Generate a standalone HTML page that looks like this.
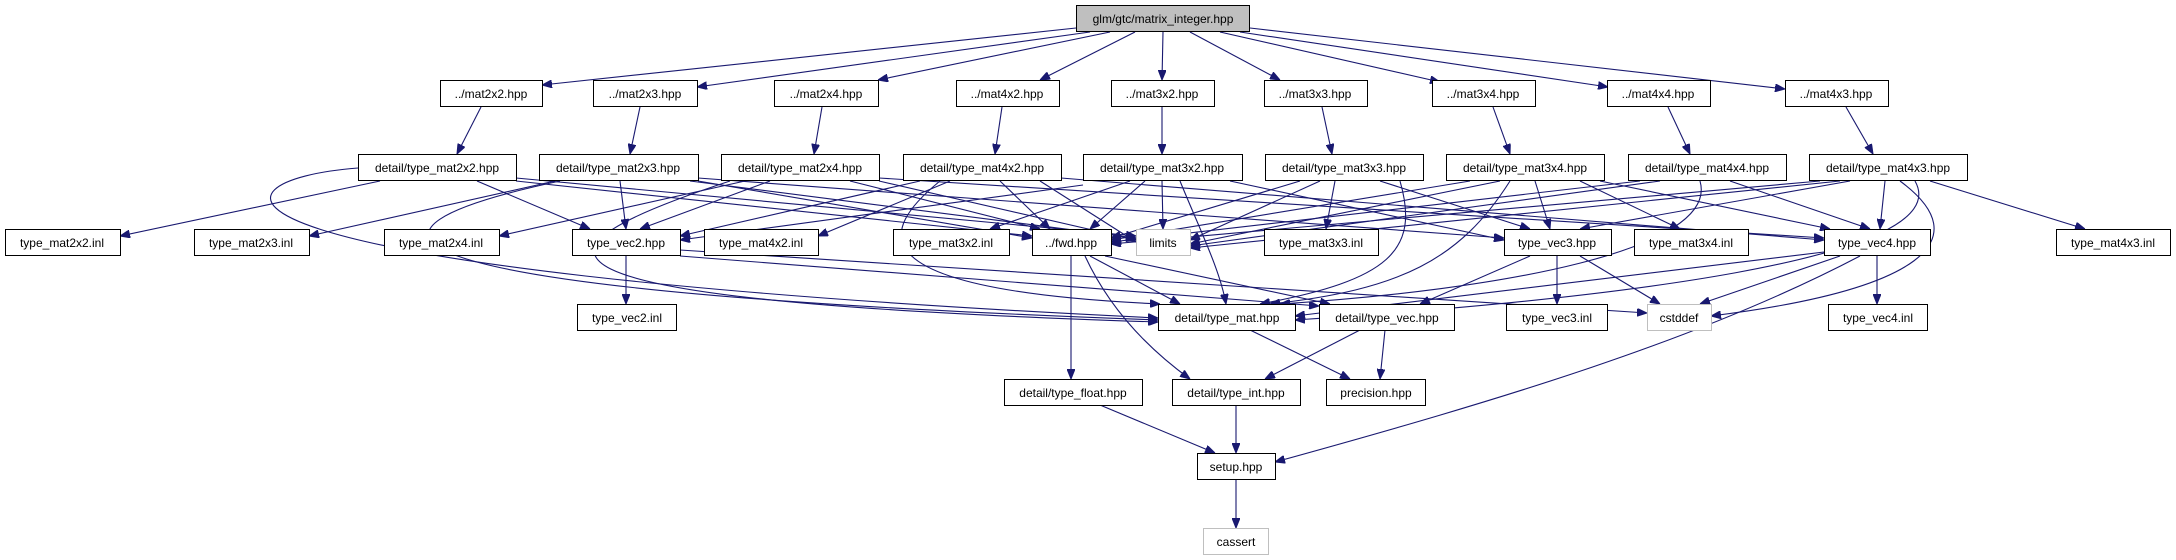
<!DOCTYPE html>
<html><head><meta charset="utf-8"><style>
html,body{margin:0;padding:0;background:#fff;}
svg{display:block;}
text{font-family:"Liberation Sans",sans-serif;font-size:12px;fill:#000;}
.b{fill:#fff;stroke:#000;stroke-width:1;}
.g{fill:#fff;stroke:#bfbfbf;stroke-width:1;}
.e{fill:none;stroke:#191970;stroke-width:1.1;marker-end:url(#a);}
</style></head><body>
<svg width="2176" height="560" viewBox="0 0 2176 560" xmlns="http://www.w3.org/2000/svg">
<defs><marker id="a" markerWidth="10" markerHeight="8" refX="10" refY="4" orient="auto" markerUnits="userSpaceOnUse"><path d="M0,0 L10,4 L0,8 z" fill="#191970" stroke="#191970"/></marker></defs>
<g>
<!-- root -> row1 -->
<line class="e" x1="1076" y1="28" x2="542" y2="85"/>
<line class="e" x1="1090" y1="32" x2="697" y2="87"/>
<line class="e" x1="1110" y1="32" x2="878" y2="80"/>
<line class="e" x1="1135" y1="32" x2="1040" y2="80"/>
<line class="e" x1="1163" y1="32" x2="1162" y2="80"/>
<line class="e" x1="1190" y1="32" x2="1280" y2="80"/>
<line class="e" x1="1220" y1="32" x2="1440" y2="82"/>
<line class="e" x1="1240" y1="32" x2="1608" y2="87"/>
<line class="e" x1="1250" y1="28" x2="1785" y2="89"/>
<!-- row1 -> row2 -->
<line class="e" x1="481" y1="107" x2="457" y2="154"/>
<line class="e" x1="640" y1="107" x2="630" y2="154"/>
<line class="e" x1="822" y1="107" x2="814" y2="154"/>
<line class="e" x1="1002" y1="107" x2="995" y2="154"/>
<line class="e" x1="1162" y1="107" x2="1162" y2="154"/>
<line class="e" x1="1322" y1="107" x2="1332" y2="154"/>
<line class="e" x1="1493" y1="107" x2="1510" y2="154"/>
<line class="e" x1="1668" y1="107" x2="1690" y2="154"/>
<line class="e" x1="1846" y1="107" x2="1873" y2="154"/>
<!-- d22 -->
<line class="e" x1="380" y1="181" x2="120" y2="236"/>
<line class="e" x1="477" y1="181" x2="590" y2="229"/>
<line class="e" x1="516" y1="181" x2="1032" y2="236"/>
<line class="e" x1="516" y1="178" x2="1136" y2="236"/>
<path class="e" d="M358,168 C200,180 150,270 1158,318"/>
<!-- d23 -->
<line class="e" x1="555" y1="181" x2="309" y2="236"/>
<line class="e" x1="620" y1="181" x2="626" y2="229"/>
<line class="e" x1="698" y1="178" x2="1504" y2="238"/>
<line class="e" x1="698" y1="181" x2="1032" y2="238"/>
<line class="e" x1="690" y1="181" x2="1136" y2="238"/>
<path class="e" d="M560,181 C330,230 330,290 1158,320"/>
<!-- d24 -->
<line class="e" x1="745" y1="181" x2="499" y2="236"/>
<line class="e" x1="770" y1="181" x2="640" y2="229"/>
<line class="e" x1="879" y1="178" x2="1824" y2="238"/>
<line class="e" x1="850" y1="181" x2="1040" y2="229"/>
<line class="e" x1="879" y1="181" x2="1136" y2="240"/>
<path class="e" d="M730,181 C520,250 480,300 1158,322"/>
<!-- d42 -->
<line class="e" x1="950" y1="181" x2="818" y2="236"/>
<line class="e" x1="920" y1="181" x2="680" y2="236"/>
<line class="e" x1="1061" y1="178" x2="1824" y2="240"/>
<line class="e" x1="1000" y1="181" x2="1050" y2="229"/>
<line class="e" x1="1040" y1="181" x2="1136" y2="242"/>
<path class="e" d="M940,181 C880,230 850,290 1160,304"/>
<!-- d32 -->
<line class="e" x1="1130" y1="181" x2="990" y2="229"/>
<line class="e" x1="1083" y1="185" x2="680" y2="240"/>
<line class="e" x1="1230" y1="181" x2="1504" y2="240"/>
<line class="e" x1="1145" y1="181" x2="1090" y2="229"/>
<line class="e" x1="1162" y1="181" x2="1163" y2="229"/>
<path class="e" d="M1180,181 C1200,230 1220,270 1226,304"/>
<!-- d33 -->
<line class="e" x1="1335" y1="181" x2="1326" y2="229"/>
<line class="e" x1="1380" y1="181" x2="1530" y2="229"/>
<line class="e" x1="1300" y1="181" x2="1111" y2="238"/>
<line class="e" x1="1320" y1="181" x2="1190" y2="240"/>
<path class="e" d="M1400,181 C1420,250 1390,280 1260,304"/>
<!-- d34 -->
<line class="e" x1="1580" y1="181" x2="1680" y2="229"/>
<line class="e" x1="1535" y1="181" x2="1550" y2="229"/>
<line class="e" x1="1600" y1="181" x2="1830" y2="229"/>
<line class="e" x1="1470" y1="181" x2="1111" y2="240"/>
<line class="e" x1="1500" y1="181" x2="1190" y2="244"/>
<path class="e" d="M1510,181 C1460,260 1400,290 1270,304"/>
<!-- d44 -->
<line class="e" x1="1730" y1="181" x2="1870" y2="229"/>
<line class="e" x1="1640" y1="181" x2="1111" y2="242"/>
<line class="e" x1="1660" y1="181" x2="1190" y2="246"/>
<path class="e" d="M1700,181 C1720,250 1500,290 1280,304"/>
<!-- d43 -->
<line class="e" x1="1930" y1="181" x2="2085" y2="229"/>
<line class="e" x1="1850" y1="181" x2="1580" y2="229"/>
<line class="e" x1="1885" y1="181" x2="1880" y2="229"/>
<line class="e" x1="1820" y1="181" x2="1111" y2="244"/>
<line class="e" x1="1840" y1="181" x2="1190" y2="248"/>
<path class="e" d="M1900,181 C1980,240 1920,290 1711,316"/>
<path class="e" d="M1915,181 C1960,260 1600,300 1295,320"/>
<!-- vec2 -->
<line class="e" x1="626" y1="256" x2="626" y2="304"/>
<line class="e" x1="680" y1="256" x2="1319" y2="306"/>
<line class="e" x1="680" y1="250" x2="1647" y2="313"/>
<!-- vec3 -->
<line class="e" x1="1530" y1="256" x2="1420" y2="304"/>
<line class="e" x1="1557" y1="256" x2="1557" y2="304"/>
<line class="e" x1="1580" y1="256" x2="1660" y2="304"/>
<!-- vec4 -->
<line class="e" x1="1824" y1="252" x2="1295" y2="316"/>
<line class="e" x1="1840" y1="256" x2="1700" y2="304"/>
<line class="e" x1="1877" y1="256" x2="1877" y2="304"/>
<path class="e" d="M1860,256 C1700,340 1500,400 1275,462"/>
<!-- fwd -->
<line class="e" x1="1071" y1="256" x2="1071" y2="379"/>
<path class="e" d="M1085,256 C1110,310 1150,350 1190,379"/>
<line class="e" x1="1090" y1="256" x2="1180" y2="304"/>
<line class="e" x1="1105" y1="256" x2="1330" y2="304"/>
<!-- lower -->
<line class="e" x1="1250" y1="330" x2="1350" y2="379"/>
<line class="e" x1="1360" y1="330" x2="1265" y2="379"/>
<line class="e" x1="1385" y1="330" x2="1380" y2="379"/>
<line class="e" x1="1100" y1="405" x2="1215" y2="453"/>
<line class="e" x1="1236" y1="405" x2="1236" y2="453"/>
<line class="e" x1="1236" y1="479" x2="1236" y2="528"/>
</g>
<g>
<rect x="1076.5" y="5.5" width="173" height="26" fill="#bfbfbf" stroke="#000"/>
<text x="1163" y="23" text-anchor="middle">glm/gtc/matrix_integer.hpp</text>
<rect class="b" x="440.5" y="80.5" width="102" height="26"/><text x="491" y="98" text-anchor="middle">../mat2x2.hpp</text>
<rect class="b" x="593.5" y="80.5" width="104" height="26"/><text x="645" y="98" text-anchor="middle">../mat2x3.hpp</text>
<rect class="b" x="774.5" y="80.5" width="104" height="26"/><text x="826" y="98" text-anchor="middle">../mat2x4.hpp</text>
<rect class="b" x="956.5" y="80.5" width="103" height="26"/><text x="1007" y="98" text-anchor="middle">../mat4x2.hpp</text>
<rect class="b" x="1111.5" y="80.5" width="103" height="26"/><text x="1162" y="98" text-anchor="middle">../mat3x2.hpp</text>
<rect class="b" x="1264.5" y="80.5" width="103" height="26"/><text x="1315" y="98" text-anchor="middle">../mat3x3.hpp</text>
<rect class="b" x="1432.5" y="80.5" width="103" height="26"/><text x="1483" y="98" text-anchor="middle">../mat3x4.hpp</text>
<rect class="b" x="1607.5" y="80.5" width="103" height="26"/><text x="1658" y="98" text-anchor="middle">../mat4x4.hpp</text>
<rect class="b" x="1785.5" y="80.5" width="103" height="26"/><text x="1836" y="98" text-anchor="middle">../mat4x3.hpp</text>

<rect class="b" x="358.5" y="154.5" width="158" height="26"/><text x="437" y="172" text-anchor="middle">detail/type_mat2x2.hpp</text>
<rect class="b" x="539.5" y="154.5" width="159" height="26"/><text x="618" y="172" text-anchor="middle">detail/type_mat2x3.hpp</text>
<rect class="b" x="721.5" y="154.5" width="158" height="26"/><text x="800" y="172" text-anchor="middle">detail/type_mat2x4.hpp</text>
<rect class="b" x="903.5" y="154.5" width="158" height="26"/><text x="982" y="172" text-anchor="middle">detail/type_mat4x2.hpp</text>
<rect class="b" x="1083.5" y="154.5" width="159" height="26"/><text x="1162" y="172" text-anchor="middle">detail/type_mat3x2.hpp</text>
<rect class="b" x="1265.5" y="154.5" width="158" height="26"/><text x="1344" y="172" text-anchor="middle">detail/type_mat3x3.hpp</text>
<rect class="b" x="1446.5" y="154.5" width="158" height="26"/><text x="1525" y="172" text-anchor="middle">detail/type_mat3x4.hpp</text>
<rect class="b" x="1628.5" y="154.5" width="158" height="26"/><text x="1707" y="172" text-anchor="middle">detail/type_mat4x4.hpp</text>
<rect class="b" x="1809.5" y="154.5" width="158" height="26"/><text x="1888" y="172" text-anchor="middle">detail/type_mat4x3.hpp</text>

<rect class="b" x="5.5" y="229.5" width="115" height="26"/><text x="62" y="247" text-anchor="middle">type_mat2x2.inl</text>
<rect class="b" x="194.5" y="229.5" width="115" height="26"/><text x="251" y="247" text-anchor="middle">type_mat2x3.inl</text>
<rect class="b" x="384.5" y="229.5" width="115" height="26"/><text x="441" y="247" text-anchor="middle">type_mat2x4.inl</text>
<rect class="b" x="572.5" y="229.5" width="108" height="26"/><text x="626" y="247" text-anchor="middle">type_vec2.hpp</text>
<rect class="b" x="704.5" y="229.5" width="114" height="26"/><text x="761" y="247" text-anchor="middle">type_mat4x2.inl</text>
<rect class="b" x="893.5" y="229.5" width="116" height="26"/><text x="951" y="247" text-anchor="middle">type_mat3x2.inl</text>
<rect class="b" x="1032.5" y="229.5" width="79" height="26"/><text x="1071" y="247" text-anchor="middle">../fwd.hpp</text>
<rect class="g" x="1136.5" y="229.5" width="54" height="26"/><text x="1163" y="247" text-anchor="middle">limits</text>
<rect class="b" x="1264.5" y="229.5" width="114" height="26"/><text x="1321" y="247" text-anchor="middle">type_mat3x3.inl</text>
<rect class="b" x="1504.5" y="229.5" width="107" height="26"/><text x="1557" y="247" text-anchor="middle">type_vec3.hpp</text>
<rect class="b" x="1634.5" y="229.5" width="114" height="26"/><text x="1691" y="247" text-anchor="middle">type_mat3x4.inl</text>
<rect class="b" x="1824.5" y="229.5" width="106" height="26"/><text x="1877" y="247" text-anchor="middle">type_vec4.hpp</text>
<rect class="b" x="2056.5" y="229.5" width="114" height="26"/><text x="2113" y="247" text-anchor="middle">type_mat4x3.inl</text>

<rect class="b" x="577.5" y="304.5" width="99" height="26"/><text x="627" y="322" text-anchor="middle">type_vec2.inl</text>
<rect class="b" x="1158.5" y="304.5" width="137" height="26"/><text x="1227" y="322" text-anchor="middle">detail/type_mat.hpp</text>
<rect class="b" x="1319.5" y="304.5" width="135" height="26"/><text x="1387" y="322" text-anchor="middle">detail/type_vec.hpp</text>
<rect class="b" x="1506.5" y="304.5" width="101" height="26"/><text x="1557" y="322" text-anchor="middle">type_vec3.inl</text>
<rect class="g" x="1647.5" y="304.5" width="64" height="26"/><text x="1679" y="322" text-anchor="middle">cstddef</text>
<rect class="b" x="1828.5" y="304.5" width="99" height="26"/><text x="1878" y="322" text-anchor="middle">type_vec4.inl</text>

<rect class="b" x="1004.5" y="379.5" width="138" height="26"/><text x="1073" y="397" text-anchor="middle">detail/type_float.hpp</text>
<rect class="b" x="1172.5" y="379.5" width="128" height="26"/><text x="1236" y="397" text-anchor="middle">detail/type_int.hpp</text>
<rect class="b" x="1326.5" y="379.5" width="99" height="26"/><text x="1376" y="397" text-anchor="middle">precision.hpp</text>
<rect class="b" x="1197.5" y="453.5" width="78" height="26"/><text x="1236" y="471" text-anchor="middle">setup.hpp</text>
<rect class="g" x="1203.5" y="528.5" width="65" height="26"/><text x="1236" y="546" text-anchor="middle">cassert</text>
</g>
</svg>
</body></html>
